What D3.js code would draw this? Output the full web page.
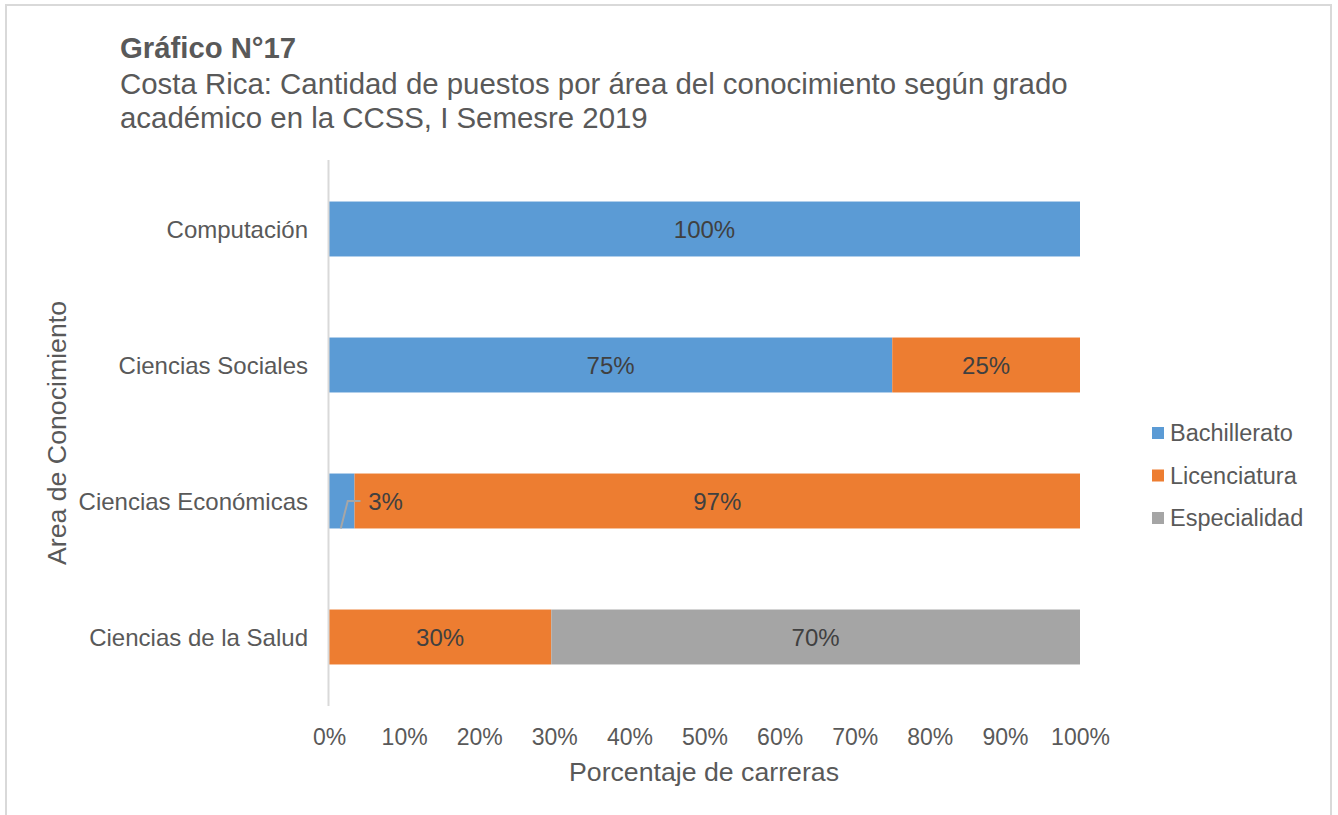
<!DOCTYPE html>
<html><head><meta charset="utf-8">
<script src="https://cdn.jsdelivr.net/npm/d3@7"></script>
<style>
html,body{margin:0;padding:0;background:#fff;}
text{font-family:"Liberation Sans",Arial,sans-serif;}
</style></head>
<body>
<svg id="c" width="1338" height="815"></svg>
<script>
const categories = ["Computación","Ciencias Sociales","Ciencias Económicas","Ciencias de la Salud"];
const seriesNames = ["Bachillerato","Licenciatura","Especialidad"];
const bachillerato = [100, 75, 3.4, 0];
const licenciatura = [0, 25, 96.6, 29.6];
const especialidad = [0, 0, 0, 70.4];
const xTicks = [0,10,20,30,40,50,60,70,80,90,100];
const colors = ["#5B9BD5","#ED7D31","#A5A5A5"];

const svg = d3.select("#c");
svg.append("rect").attr("x",6).attr("y",5).attr("width",1325).attr("height",830)
  .attr("fill","#fff").attr("stroke","#d9d9d9").attr("stroke-width",2);

const x = d3.scaleLinear().domain([0,100]).range([329,1080]);
const y = d3.scaleBand().domain(categories).range([161,705]).paddingInner(0.596).paddingOuter(0.298);

svg.append("text").attr("x",120).attr("y",58).attr("font-size",29.3).attr("font-weight","bold").attr("fill","#595959").text("Gráfico N°17");
svg.append("text").attr("x",120).attr("y",94).attr("font-size",29.4).attr("fill","#595959").text("Costa Rica: Cantidad de puestos por área del conocimiento según grado");
svg.append("text").attr("x",120).attr("y",128).attr("font-size",29.4).attr("fill","#595959").text("académico en la CCSS, I Semesre 2019");

const table = categories.map((c,i)=>({cat:c, Bachillerato:bachillerato[i], Licenciatura:licenciatura[i], Especialidad:especialidad[i]}));
const stacked = d3.stack().keys(seriesNames)(table);

const g = svg.append("g");
stacked.forEach((s,si)=>{
  g.selectAll(null).data(s).enter().append("rect")
    .attr("x",d=>x(d[0])).attr("width",d=>x(d[1])-x(d[0]))
    .attr("y",d=>y(d.data.cat)).attr("height",y.bandwidth())
    .attr("fill",colors[si]);
});

stacked.forEach((s,si)=>{
  s.forEach(d=>{
    const v = d[1]-d[0];
    if (v<=0) return;
    const cy = y(d.data.cat)+y.bandwidth()/2;
    let lx = (x(d[0])+x(d[1]))/2;
    if (v < 5) {
      const bx = lx, by = y(d.data.cat)+y.bandwidth();
      lx = x(d[1]) + 31;
      g.append("polyline").attr("points",`${bx-1},${by} ${bx+6},${cy} ${lx-25},${cy}`)
        .attr("fill","none").attr("stroke","#a6a6a6").attr("stroke-width",2);
    }
    g.append("text").attr("x",lx).attr("y",cy).attr("dy","0.36em").attr("text-anchor","middle")
      .attr("font-size",24).attr("fill","#404040").text(Math.round(v)+"%");
  });
});

svg.append("line").attr("x1",328.5).attr("x2",328.5).attr("y1",160).attr("y2",706).attr("stroke","#d9d9d9").attr("stroke-width",2);

const ya = svg.append("g").attr("transform","translate(308,0)").call(d3.axisLeft(y).tickSize(0).tickPadding(0));
ya.select(".domain").remove();
ya.selectAll("text").attr("font-size",24).attr("fill","#595959").attr("font-family","Liberation Sans, Arial, sans-serif").attr("dy","0.36em");

const xa = svg.append("g").attr("transform","translate(0,737)").call(d3.axisBottom(x).tickValues(xTicks).tickSize(0).tickPadding(0).tickFormat(d=>d+"%"));
xa.select(".domain").remove();
xa.selectAll("text").attr("font-size",23).attr("fill","#595959").attr("font-family","Liberation Sans, Arial, sans-serif").attr("dy","0.36em");

svg.append("text").attr("x",704).attr("y",781).attr("text-anchor","middle").attr("font-size",26.7).attr("fill","#595959").text("Porcentaje de carreras");
svg.append("text").attr("transform","translate(66,433) rotate(-90)").attr("text-anchor","middle").attr("font-size",26.7).attr("fill","#595959").text("Area de Conocimiento");

const lg = svg.append("g");
seriesNames.forEach((n,i)=>{
  const ly = 433 + i*42.5;
  lg.append("rect").attr("x",1152).attr("y",ly-6).attr("width",12).attr("height",12).attr("fill",colors[i]);
  lg.append("text").attr("x",1170).attr("y",ly).attr("dy","0.36em").attr("font-size",23.5).attr("fill","#595959").text(n);
});
</script>
</body></html>
